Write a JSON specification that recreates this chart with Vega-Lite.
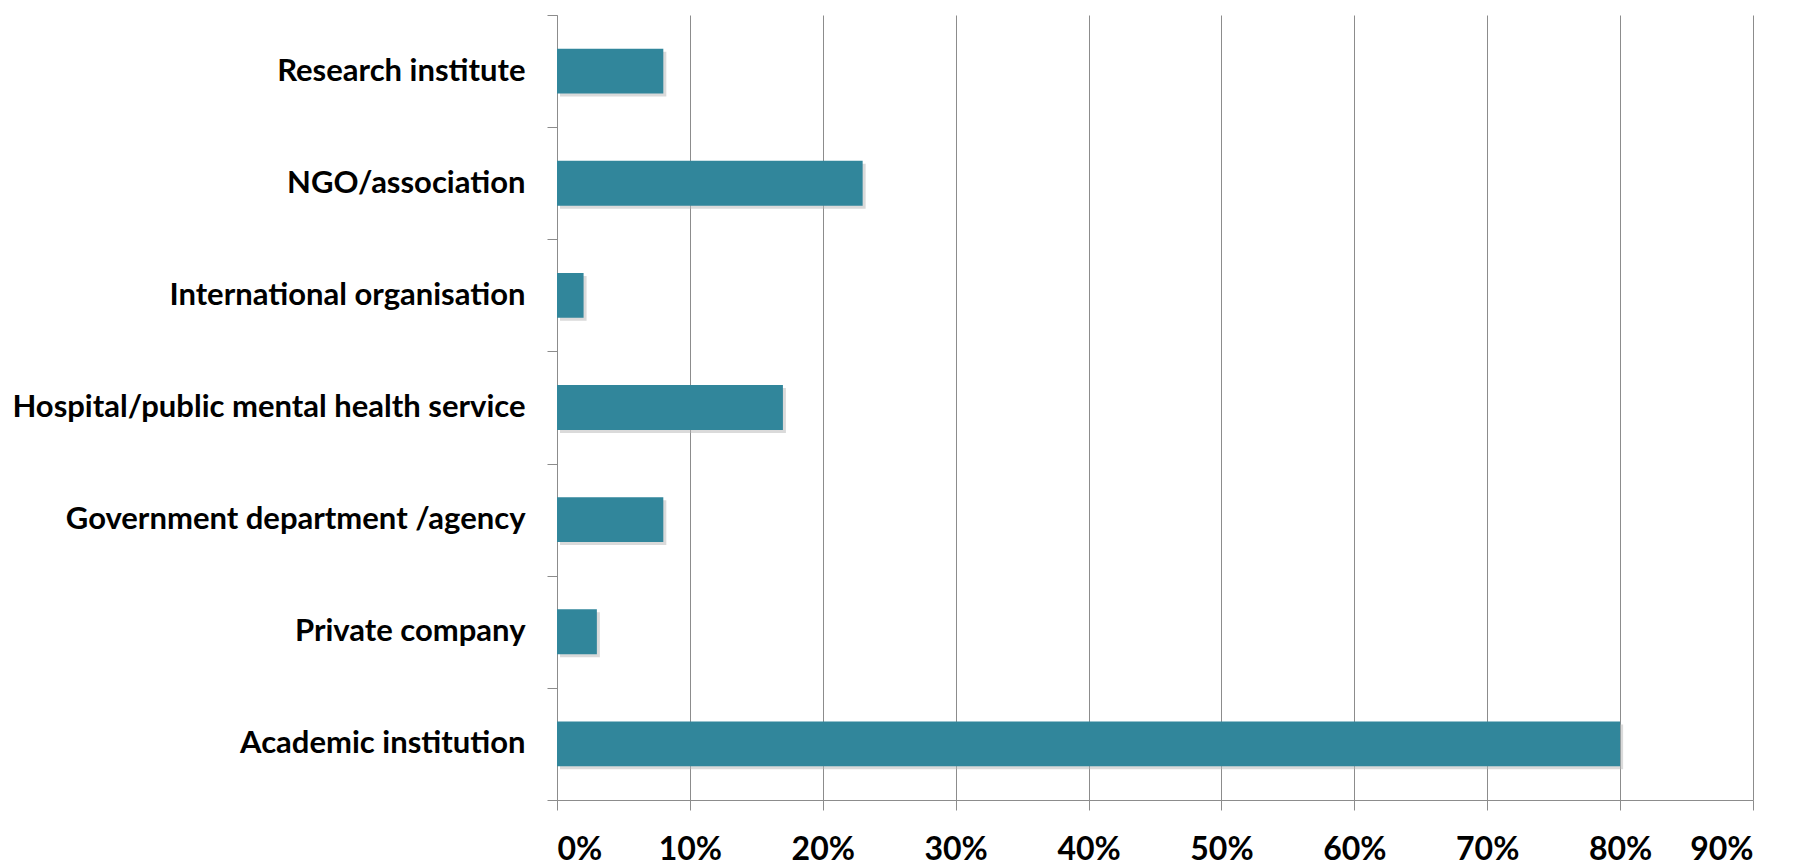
{
  "$schema": "https://vega.github.io/schema/vega-lite/v6.json",
  "autosize": "none",
  "padding": {"left": 557, "top": 15, "right": 42, "bottom": 65},
  "width": 1196,
  "height": 785,
  "data": {
    "values": [
      {"Type": "Research institute", "Share": 0.08},
      {"Type": "NGO/association", "Share": 0.23},
      {"Type": "International organisation", "Share": 0.02},
      {"Type": "Hospital/public mental health service", "Share": 0.17},
      {"Type": "Government department /agency", "Share": 0.08},
      {"Type": "Private company", "Share": 0.03},
      {"Type": "Academic institution ", "Share": 0.8}
    ]
  },
  "encoding": {
    "y": {
      "field": "Type",
      "type": "nominal",
      "sort": null,
      "title": null,
      "scale": {"paddingInner": 0, "paddingOuter": 0},
      "axis": {
        "tickBand": "extent",
        "tickSize": 10,
        "tickColor": "#8c8c8c",
        "domainColor": "#8c8c8c",
        "labelPadding": 22,
        "labelLimit": 0,
        "labelFontSize": 31,
        "grid": false
      }
    },
    "x": {
      "field": "Share",
      "type": "quantitative",
      "title": null,
      "scale": {"domain": [0, 0.9], "nice": false},
      "axis": {
        "values": [0, 0.1, 0.2, 0.3, 0.4, 0.5, 0.6, 0.7, 0.8, 0.9],
        "format": ".0%",
        "tickSize": 10,
        "tickColor": "#8c8c8c",
        "domainColor": "#8c8c8c",
        "gridColor": "#8c8c8c",
        "gridOpacity": 1,
        "labelFontSize": 32,
        "labelPadding": 24
      }
    }
  },
  "layer": [
    {"mark": {"type": "bar", "height": {"band": 0.4}, "color": "#b5b5b5", "opacity": 0.5, "xOffset": 3, "yOffset": 3, "x2Offset": 3, "y2Offset": 3}},
    {"mark": {"type": "bar", "height": {"band": 0.4}, "color": "#31869B"}}
  ],
  "config": {
    "view": {"stroke": null},
    "axis": {
      "labelFont": "Lato",
      "labelFontWeight": "bold",
      "labelColor": "#000000",
      "domainWidth": 1,
      "gridWidth": 1
    }
  }
}
